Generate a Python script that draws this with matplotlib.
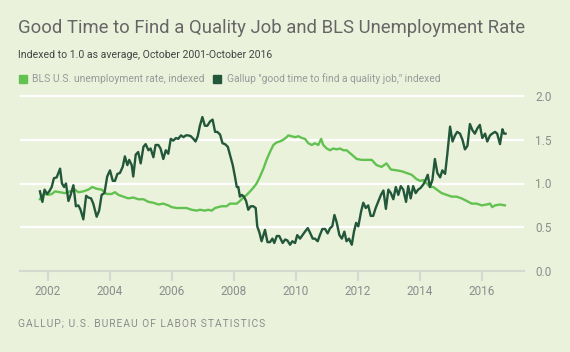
import matplotlib
matplotlib.use("Agg")
import matplotlib.pyplot as plt
from matplotlib.patches import Rectangle

# Gallup "good time to find a quality job", indexed (decimal year, value)
gallup_year = [2001.74, 2001.82, 2001.89, 2001.97, 2002.04, 2002.12, 2002.19, 2002.28, 2002.39, 2002.45,
               2002.52, 2002.58, 2002.66, 2002.73, 2002.82, 2002.90, 2002.98, 2003.05, 2003.14, 2003.23,
               2003.30, 2003.39, 2003.46, 2003.57, 2003.65, 2003.73, 2003.82, 2003.91, 2004.00, 2004.09,
               2004.16, 2004.24, 2004.32, 2004.41, 2004.48, 2004.56, 2004.62, 2004.70, 2004.75, 2004.83,
               2004.91, 2004.99, 2005.08, 2005.15, 2005.24, 2005.31, 2005.40, 2005.47, 2005.56, 2005.63,
               2005.72, 2005.80, 2005.88, 2005.96, 2006.04, 2006.13, 2006.20, 2006.29, 2006.37, 2006.45,
               2006.53, 2006.61, 2006.69, 2006.76, 2006.83, 2006.90, 2006.98, 2007.06, 2007.14, 2007.23,
               2007.31, 2007.39, 2007.46, 2007.55, 2007.63, 2007.71, 2007.80, 2007.87, 2007.96, 2008.03,
               2008.09, 2008.14, 2008.19, 2008.25, 2008.32, 2008.39, 2008.46, 2008.54, 2008.62, 2008.70,
               2008.75, 2008.82, 2008.89, 2009.00, 2009.08, 2009.16, 2009.24, 2009.30, 2009.38, 2009.46,
               2009.57, 2009.65, 2009.72, 2009.81, 2009.88, 2009.97, 2010.04, 2010.13, 2010.21, 2010.29,
               2010.38, 2010.45, 2010.54, 2010.61, 2010.70, 2010.77, 2010.85, 2010.94, 2011.02, 2011.10,
               2011.17, 2011.24, 2011.31, 2011.40, 2011.48, 2011.56, 2011.63, 2011.71, 2011.80, 2011.87,
               2011.94, 2012.01, 2012.10, 2012.17, 2012.25, 2012.33, 2012.41, 2012.49, 2012.57, 2012.66,
               2012.74, 2012.82, 2012.90, 2012.98, 2013.06, 2013.14, 2013.22, 2013.30, 2013.38, 2013.46,
               2013.55, 2013.62, 2013.70, 2013.78, 2013.86, 2013.94, 2014.02, 2014.11, 2014.18, 2014.25,
               2014.32, 2014.40, 2014.48, 2014.56, 2014.65, 2014.72, 2014.81, 2014.88, 2014.97, 2015.05,
               2015.13, 2015.20, 2015.29, 2015.37, 2015.45, 2015.53, 2015.61, 2015.69, 2015.77, 2015.85,
               2015.93, 2016.01, 2016.10, 2016.17, 2016.26, 2016.33, 2016.42, 2016.49, 2016.58, 2016.66,
               2016.71, 2016.76]
gallup_val = [0.91, 0.79, 0.93, 0.88, 0.91, 0.96, 1.06, 1.07, 1.17, 1.00,
              0.96, 1.00, 0.80, 0.87, 0.98, 0.74, 0.75, 0.70, 0.59, 0.86,
              0.84, 0.83, 0.77, 0.62, 0.69, 0.87, 0.89, 1.08, 1.15, 1.03,
              1.03, 1.11, 1.12, 1.19, 1.31, 1.21, 1.27, 1.21, 1.08, 1.33,
              1.36, 1.23, 1.42, 1.45, 1.38, 1.40, 1.30, 1.44, 1.44, 1.40,
              1.28, 1.38, 1.34, 1.51, 1.49, 1.52, 1.51, 1.55, 1.53, 1.55,
              1.55, 1.54, 1.51, 1.48, 1.54, 1.66, 1.76, 1.66, 1.66, 1.71,
              1.73, 1.59, 1.59, 1.56, 1.46, 1.45, 1.42, 1.33, 1.21, 1.08,
              0.96, 0.96, 0.85, 0.87, 0.85, 0.80, 0.70, 0.74, 0.74, 0.72,
              0.51, 0.44, 0.34, 0.47, 0.33, 0.33, 0.37, 0.32, 0.40, 0.40,
              0.32, 0.36, 0.35, 0.30, 0.34, 0.32, 0.41, 0.37, 0.41, 0.45,
              0.49, 0.44, 0.37, 0.37, 0.34, 0.41, 0.48, 0.48, 0.43, 0.49,
              0.51, 0.64, 0.56, 0.41, 0.37, 0.45, 0.34, 0.37, 0.30, 0.45,
              0.55, 0.51, 0.68, 0.78, 0.72, 0.75, 0.63, 0.63, 0.72, 0.80,
              0.87, 0.92, 0.71, 0.93, 0.89, 0.82, 0.96, 0.87, 0.97, 0.93,
              0.79, 0.97, 0.83, 0.97, 0.89, 0.93, 0.95, 0.99, 1.04, 1.10,
              0.96, 1.04, 1.28, 1.12, 1.07, 1.15, 1.11, 1.33, 1.65, 1.48,
              1.55, 1.59, 1.57, 1.50, 1.39, 1.43, 1.68, 1.61, 1.57, 1.63,
              1.67, 1.52, 1.57, 1.48, 1.55, 1.57, 1.59, 1.57, 1.45, 1.62,
              1.57, 1.57]

# BLS U.S. unemployment rate, indexed (decimal year, value)
bls_year = [2001.74, 2001.82, 2001.90, 2002.01, 2002.12, 2002.23, 2002.39, 2002.55, 2002.71, 2002.87,
            2002.98, 2003.14, 2003.30, 2003.43, 2003.57, 2003.73, 2003.89, 2004.05, 2004.16, 2004.27,
            2004.43, 2004.59, 2004.75, 2004.91, 2005.08, 2005.24, 2005.40, 2005.56, 2005.72, 2005.88,
            2005.99, 2006.15, 2006.31, 2006.47, 2006.63, 2006.80, 2006.90, 2007.06, 2007.17, 2007.28,
            2007.39, 2007.49, 2007.60, 2007.76, 2007.87, 2007.98, 2008.09, 2008.19, 2008.30, 2008.41,
            2008.52, 2008.62, 2008.73, 2008.84, 2008.95, 2009.05, 2009.16, 2009.27, 2009.38, 2009.48,
            2009.59, 2009.70, 2009.75, 2009.86, 2009.97, 2010.08, 2010.19, 2010.29, 2010.40, 2010.51,
            2010.61, 2010.72, 2010.81, 2010.88, 2010.99, 2011.10, 2011.20, 2011.31, 2011.42, 2011.53,
            2011.63, 2011.80, 2011.96, 2012.12, 2012.28, 2012.44, 2012.60, 2012.76, 2012.92, 2013.06,
            2013.25, 2013.41, 2013.57, 2013.73, 2013.89, 2014.00, 2014.11, 2014.22, 2014.32, 2014.43,
            2014.54, 2014.70, 2014.86, 2015.02, 2015.18, 2015.34, 2015.51, 2015.67, 2015.83, 2015.99,
            2016.15, 2016.26, 2016.33, 2016.42, 2016.58, 2016.74]
bls_val = [0.82, 0.87, 0.88, 0.87, 0.88, 0.91, 0.90, 0.89, 0.91, 0.93,
           0.90, 0.91, 0.93, 0.96, 0.94, 0.93, 0.88, 0.88, 0.90, 0.87,
           0.85, 0.83, 0.84, 0.82, 0.82, 0.79, 0.78, 0.76, 0.77, 0.75,
           0.73, 0.72, 0.72, 0.72, 0.70, 0.69, 0.70, 0.69, 0.70, 0.69,
           0.72, 0.73, 0.74, 0.74, 0.77, 0.77, 0.77, 0.80, 0.84, 0.87,
           0.91, 0.95, 1.00, 1.08, 1.17, 1.27, 1.36, 1.44, 1.47, 1.48,
           1.50, 1.53, 1.55, 1.54, 1.53, 1.54, 1.52, 1.51, 1.46, 1.44,
           1.46, 1.44, 1.51, 1.44, 1.40, 1.38, 1.40, 1.39, 1.40, 1.38,
           1.38, 1.33, 1.28, 1.27, 1.27, 1.27, 1.21, 1.19, 1.23, 1.16,
           1.15, 1.14, 1.12, 1.10, 1.05, 1.03, 1.04, 1.00, 0.96, 0.96,
           0.93, 0.89, 0.87, 0.85, 0.85, 0.83, 0.80, 0.77, 0.77, 0.75,
           0.76, 0.77, 0.73, 0.75, 0.76, 0.75]

year_ticks = [2002, 2004, 2006, 2008, 2010, 2012, 2014, 2016]
val_ticks = [0.0, 0.5, 1.0, 1.5, 2.0]

BG = "#ebf2dc"
LIGHT = "#62c250"
DARK = "#22573a"
GREY = "#8c8c8c"

plt.rcParams["font.family"] = ["Roboto", "DejaVu Sans"]

W, H = 570, 352
fig = plt.figure(figsize=(W / 100, H / 100), dpi=100, facecolor=BG)

# axes box in pixels: x 20..524, y(0.0)=271, 87.5 px per unit
ymax = 2.03
ax = fig.add_axes([20 / W, (H - 271) / H, 504 / W, ymax * 87.5 / H])
ax.set_facecolor(BG)
ax.set_xlim(2001.097, 2017.355)
ax.set_ylim(0, ymax)

for v in val_ticks[1:]:
    ax.axhline(v, color="white", lw=1.6, zorder=1)

ax.plot(bls_year, bls_val, color=LIGHT, lw=1.7, zorder=3)
ax.plot(gallup_year, gallup_val, color=DARK, lw=1.7, zorder=4)

for s in ["top", "left", "right"]:
    ax.spines[s].set_visible(False)
ax.spines["bottom"].set_color("#d6d9d0")
ax.spines["bottom"].set_linewidth(1.6)

ax.set_xticks(year_ticks)
ax.set_xticklabels([str(y) for y in year_ticks])
ax.tick_params(axis="x", length=7, width=1.6, color="#d6d9d0", labelsize=8.5,
               labelcolor=GREY, pad=3)
ax.yaxis.tick_right()
ax.set_yticks(val_ticks)
ax.set_yticklabels(["%.1f" % v for v in val_ticks])
ax.tick_params(axis="y", length=0, labelsize=8.5, labelcolor=GREY, pad=8)

fig.text(18 / W, 1 - 28 / H, "Good Time to Find a Quality Job and BLS Unemployment Rate",
         fontsize=13.3, color="#666666", va="center", ha="left")
fig.text(18 / W, 1 - 55 / H, "Indexed to 1.0 as average, October 2001-October 2016",
         fontsize=7.6, color="#444444", va="center", ha="left")

# legend
fig.patches.append(Rectangle((19 / W, 1 - 83 / H), 8 / W, 8 / H, transform=fig.transFigure,
                             color=LIGHT, figure=fig))
fig.text(32 / W, 1 - 79 / H, "BLS U.S. unemployment rate, indexed",
         fontsize=7.5, color="#999999", va="center", ha="left")
fig.patches.append(Rectangle((213 / W, 1 - 83 / H), 8 / W, 8 / H, transform=fig.transFigure,
                             color=DARK, figure=fig))
fig.text(227 / W, 1 - 79 / H, "Gallup \"good time to find a quality job,\" indexed",
         fontsize=7.4, color="#999999", va="center", ha="left")

# source line, letter-spaced with hair spaces
source = "GALLUP; U.S. BUREAU OF LABOR STATISTICS"
fig.text(18 / W, 1 - 324 / H, "\u200a".join(source),
         fontsize=7.4, color=GREY, va="center", ha="left")

fig.savefig("out.png", dpi=100, facecolor=BG)
